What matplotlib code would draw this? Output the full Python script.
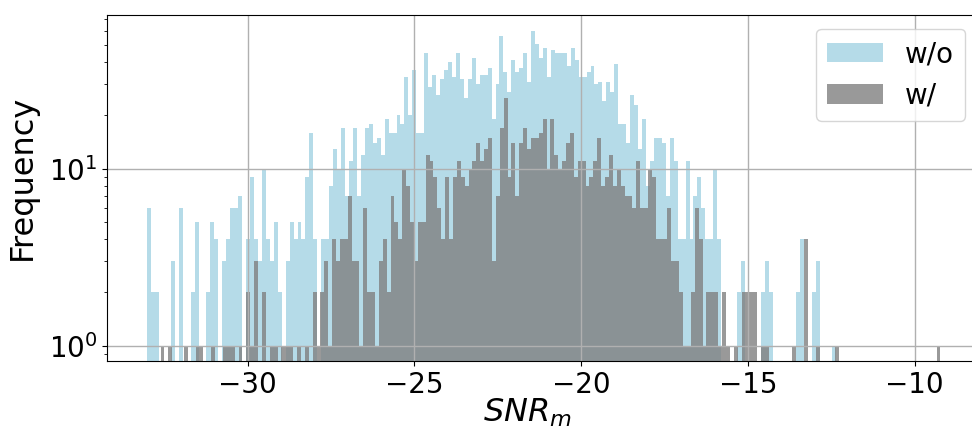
import numpy as np
import matplotlib
matplotlib.use("Agg")
import matplotlib.pyplot as plt

# ---- data: histogram counts (200 bins each) ----
wo_range = (-33.019, -9.27)     # bin range of the "w/o" histogram
w_range = (-32.615, -9.227)     # bin range of the "w/" histogram

wo_counts = [
    6, 2, 2, 0, 0, 0, 3, 0, 6, 0, 0, 2, 5, 0, 0, 2, 5, 4, 0, 3,
    4, 6, 6, 7, 0, 4, 9, 4, 3, 10, 4, 3, 5, 2, 0, 3, 5, 4, 5, 4,
    9, 16, 4, 0, 4, 4, 8, 13, 10, 17, 7, 11, 17, 7, 12, 17, 18, 14, 15, 12,
    19, 16, 16, 20, 18, 33, 20, 36, 16, 16, 45, 29, 34, 26, 32, 36, 40, 33, 45, 32,
    25, 32, 42, 30, 34, 34, 37, 19, 30, 56, 35, 27, 41, 35, 37, 45, 31, 60, 51, 42,
    48, 33, 47, 45, 45, 45, 38, 48, 41, 33, 33, 35, 38, 30, 31, 24, 31, 27, 39, 18,
    18, 14, 26, 23, 13, 19, 8, 11, 15, 15, 14, 7, 15, 11, 4, 4, 11, 4, 7, 9,
    6, 4, 4, 10, 4, 0, 0, 0, 0, 2, 3, 0, 0, 0, 0, 2, 3, 2, 0, 0,
    0, 0, 0, 0, 2, 4, 0, 0, 2, 3, 0, 0, 0, 1, 0, 0, 0, 0, 0, 0,
    0, 0, 0, 0, 0, 0, 0, 0, 0, 0, 0, 0, 0, 0, 0, 0, 0, 0, 0, 0,
]

w_counts = [
    1, 0, 1, 0, 0, 0, 1, 0, 0, 1, 1, 0, 0, 1, 0, 0, 1, 1, 1, 0,
    1, 0, 2, 1, 3, 0, 2, 0, 1, 1, 0, 1, 1, 1, 0, 1, 0, 1, 0, 2,
    1, 2, 3, 1, 4, 3, 4, 4, 7, 3, 3, 1, 6, 2, 2, 1, 3, 4, 2, 7,
    5, 4, 10, 8, 5, 3, 5, 5, 12, 11, 9, 6, 4, 9, 4, 9, 11, 9, 8, 10,
    11, 14, 11, 13, 15, 3, 7, 17, 25, 9, 14, 7, 14, 17, 13, 15, 15, 16, 19, 10,
    19, 12, 10, 11, 14, 16, 9, 11, 11, 8, 9, 11, 15, 8, 9, 12, 8, 10, 8, 7,
    7, 6, 11, 6, 6, 10, 9, 4, 4, 4, 6, 3, 3, 2, 1, 1, 2, 6, 4, 1,
    2, 2, 2, 1, 2, 1, 0, 1, 0, 2, 2, 2, 2, 0, 1, 1, 0, 0, 0, 0,
    0, 0, 1, 0, 0, 4, 0, 0, 1, 0, 0, 0, 0, 1, 0, 0, 0, 0, 0, 0,
    0, 0, 0, 0, 0, 0, 0, 0, 0, 0, 0, 0, 0, 0, 0, 0, 0, 0, 0, 1,
]

series_labels = ["w/o", "w/"]
x_label = "$SNR_m$"
y_label = "Frequency"

# ---- figure ----
fig = plt.figure(figsize=(9.72, 4.33), dpi=100)
ax = fig.add_axes([107 / 972, 72 / 433, 872 / 972, 346 / 433])

wo_edges = np.linspace(wo_range[0], wo_range[1], len(wo_counts) + 1)
w_edges = np.linspace(w_range[0], w_range[1], len(w_counts) + 1)
wo_centers = 0.5 * (wo_edges[:-1] + wo_edges[1:])
w_centers = 0.5 * (w_edges[:-1] + w_edges[1:])

ax.hist(wo_centers, bins=wo_edges, weights=wo_counts, color="lightblue",
        alpha=0.9, label=series_labels[0], log=True)
ax.hist(w_centers, bins=w_edges, weights=w_counts, color="gray",
        alpha=0.8, label=series_labels[1], log=True)

ax.set_xlim(-34.22, -8.07)
ax.set_ylim(0.82, 73.9)
ax.set_xticks([-30, -25, -20, -15, -10])
ax.grid(True, color="#b0b0b0", linewidth=1.0)
ax.tick_params(axis="both", which="major", labelsize=20)
ax.set_xlabel(x_label, fontsize=23)
ax.set_ylabel(y_label, fontsize=23)
ax.xaxis.set_label_coords(0.482, -0.104)
ax.yaxis.set_label_coords(-0.079, 0.532)
ax.legend(loc="upper right", fontsize=20)

fig.savefig("out.png", dpi=100)
